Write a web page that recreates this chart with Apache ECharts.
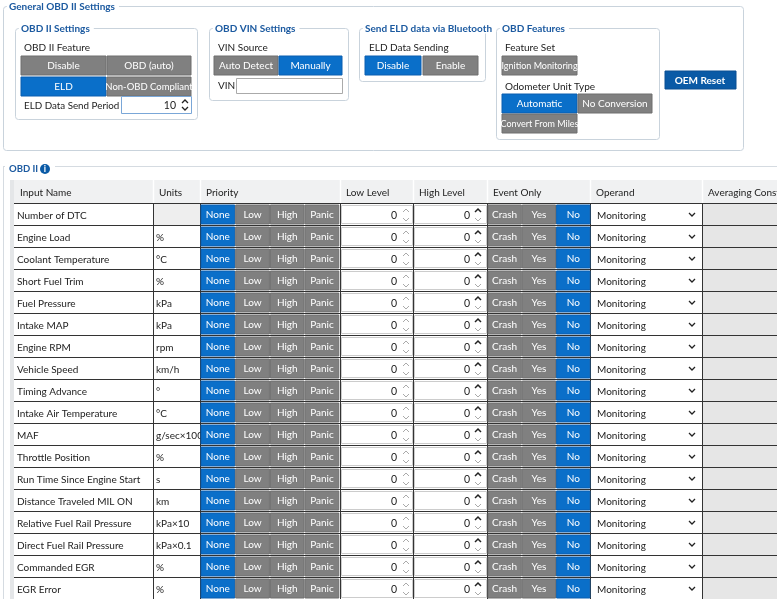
<!DOCTYPE html>
<html><head><meta charset="utf-8">
<script src="https://cdn.jsdelivr.net/npm/echarts@6/dist/echarts.min.js"></script>
<style>html,body{margin:0;padding:0;background:#fff}#c{width:777px;height:599px}</style>
</head><body><div id="c"></div>
<script>
const inputNames=["Number of DTC","Engine Load","Coolant Temperature","Short Fuel Trim","Fuel Pressure","Intake MAP","Engine RPM","Vehicle Speed","Timing Advance","Intake Air Temperature","MAF","Throttle Position","Run Time Since Engine Start","Distance Traveled MIL ON","Relative Fuel Rail Pressure","Direct Fuel Rail Pressure","Commanded EGR","EGR Error"];
const units=["","%","°C","%","kPa","kPa","rpm","km/h","°","°C","g/sec×100","%","s","km","kPa×10","kPa×0.1","%","%"];
const lowLevels=[0,0,0,0,0,0,0,0,0,0,0,0,0,0,0,0,0,0];
const highLevels=[0,0,0,0,0,0,0,0,0,0,0,0,0,0,0,0,0,0];
const priorityOpts=["None","Low","High","Panic"];
const eventOpts=["Crash","Yes","No"];
const operands=Array(18).fill("Monitoring");
const headers=["Input Name","Units","Priority","Low Level","High Level","Event Only","Operand","Averaging Const"];

const F="Lato, 'Noto Sans', sans-serif";
const BLUE="#0a6fc9", GRAY="#808080", TITLE="#1c5aa0";
const els=[];
function rect(x,y,w,h,fill,stroke,r){els.push({type:'rect',shape:{x,y,width:w,height:h,r:r||0},style:{fill:fill||'none',stroke:stroke||null,lineWidth:1}});}
function text(x,y,t,o){o=o||{};const st={text:t,fill:o.c||'#222',font:(o.b?'bold ':'')+(o.s||10.5)+'px '+F,align:o.a||'left',verticalAlign:'middle'};
 if(o.bg){st.backgroundColor=o.bg;st.padding=[0,4,0,2];}
 els.push({type:'text',x,y:y+0.5,style:st});}
function btn(x,y,w,h,t,on,s){rect(x,y,w,h,on?BLUE:GRAY,on?'#0a5fb0':'#6e6e6e');text(x+w/2,y+h/2,t,{c:'#fff',a:'center',s:s||10});}
function group(x,y,w,h,t){rect(x+.5,y+.5,w,h,'none','#c9d3dc',3);text(x+4,y,t,{c:TITLE,b:true,bg:'#fff',s:10});}
function spinner(x,y){els.push({type:'polyline',shape:{points:[[x-3,y-2],[x,y-5],[x+3,y-2]]},style:{stroke:'#222',lineWidth:1.3,fill:'none'}});
 els.push({type:'polyline',shape:{points:[[x-3,y+2],[x,y+5],[x+3,y+2]]},style:{stroke:'#222',lineWidth:1.3,fill:'none'}});}

group(3,6,740,144,"General OBD II Settings");
group(15,28,182,91,"OBD II Settings");
text(24,47,"OBD II Feature",{s:10});
btn(21,56,85,19,"Disable",false);btn(107,56,84,19,"OBD (auto)",false);
btn(21,77,85,19,"ELD",true);btn(107,77,84,19,"Non-OBD Compliant",false,9.5);
text(24,105,"ELD Data Send Period (s)",{s:9.8});
rect(121.5,96.5,70,17,'#fff','#7aa7d8');text(176,105,"10",{a:'right'});spinner(185,105);
group(209,28,139,72,"OBD VIN Settings");
text(218,47,"VIN Source",{s:10});
btn(214,56,64,19,"Auto Detect",false);btn(279,56,63,19,"Manually",true);
text(218,85,"VIN",{s:10});rect(236.5,78.5,106,15,'#fff','#aaa');
group(359,28,126,53,"Send ELD data via Bluetooth");
text(369,47,"ELD Data Sending",{s:10});
btn(365,56,56,19,"Disable",true);btn(423,56,55,19,"Enable",false);
group(496,28,163,111,"OBD Features");
text(505,47,"Feature Set",{s:10});
btn(502,56,75,19,"Ignition Monitoring",false,9);
text(505,86,"Odometer Unit Type",{s:10});
btn(502,94,75,19,"Automatic",true);btn(578,94,74,19,"No Conversion",false);
btn(502,114,75,19,"Convert From Miles",false,9);
rect(665,71,71,18,'#0a5aa6','#0a4f92');text(700,80,"OEM Reset",{c:'#fff',a:'center',b:true,s:10});

els.push({type:'line',shape:{x1:3,y1:166.5,x2:777,y2:166.5},style:{stroke:'#d5dbe1'}});
els.push({type:'line',shape:{x1:3.5,y1:166,x2:3.5,y2:599},style:{stroke:'#d5dbe1'}});
rect(5,160,50,12,'#fff',null);
text(9,168,"OBD II",{c:TITLE,b:true,s:9.5});
els.push({type:'circle',shape:{cx:45,cy:169,r:5},style:{fill:'#0a5aa6'}});
text(45,168.5,"i",{c:'#fff',a:'center',b:true,s:9});

const colX=[14,153,200,340,413,487,590,702,777];
const tTop=180, hh=23, rh=22;
rect(10,tTop,4,599-tTop,'#e4e6e8',null);
rect(14,tTop,763,hh,'#f0f1f2',null);
for(let i=0;i<headers.length;i++){text(colX[i]+6,tTop+12,headers[i],{s:10});
 if(i>0) els.push({type:'line',shape:{x1:colX[i]+.5,y1:tTop,x2:colX[i]+.5,y2:tTop+hh},style:{stroke:'#fff',lineWidth:1.5}});}
inputNames.forEach((n,r)=>{
 const y=tTop+hh+r*rh;
 rect(14,y,763,rh,'#fff',null);
 if(units[r]==="") rect(153,y+1,47,rh-1,'#eeeeee',null);
 rect(702,y+1,75,rh-1,'#e6e6e6',null);
 els.push({type:'line',shape:{x1:14,y1:y+.5,x2:777,y2:y+.5},style:{stroke:'#333',lineWidth:1.2}});
 [153,200,340,413,487,590,702].forEach(cx=>els.push({type:'line',shape:{x1:cx+.5,y1:y,x2:cx+.5,y2:y+rh},style:{stroke:'#333',lineWidth:1}}));
 const cy=y+rh/2+1;
 text(17,cy,n,{s:10});text(156,cy,units[r],{s:10});
 priorityOpts.forEach((p,k)=>btn(201+k*34.7,y+2,33.7,19,p,k===0));
 rect(341.5,y+2.5,71,18,'#fff','#ccc');text(397,cy,String(lowLevels[r]),{a:'right'});
 els.push({type:'polyline',shape:{points:[[403,cy-3],[406,cy-6],[409,cy-3]]},style:{stroke:'#aaa',fill:'none'}});
 els.push({type:'polyline',shape:{points:[[403,cy+3],[406,cy+6],[409,cy+3]]},style:{stroke:'#aaa',fill:'none'}});
 rect(414.5,y+2.5,72,18,'#fff','#ccc');text(470,cy,String(highLevels[r]),{a:'right'});
 els.push({type:'polyline',shape:{points:[[475,cy-3],[478,cy-6],[481,cy-3]]},style:{stroke:'#222',fill:'none',lineWidth:1.5}});
 els.push({type:'polyline',shape:{points:[[475,cy+3],[478,cy+6],[481,cy+3]]},style:{stroke:'#aaa',fill:'none'}});
 eventOpts.forEach((p,k)=>btn(488+k*34.3,y+2,33.3,19,p,k===2));
 rect(591,y+2,110,19,'#fff',null);text(597,cy,operands[r],{s:10});
 els.push({type:'polyline',shape:{points:[[689,cy-2],[692,cy+1],[695,cy-2]]},style:{stroke:'#222',fill:'none',lineWidth:1.3}});
});
const ch=echarts.init(document.getElementById('c'),null,{renderer:'canvas'});
ch.setOption({animation:false,graphic:{elements:els}});
</script></body></html>
